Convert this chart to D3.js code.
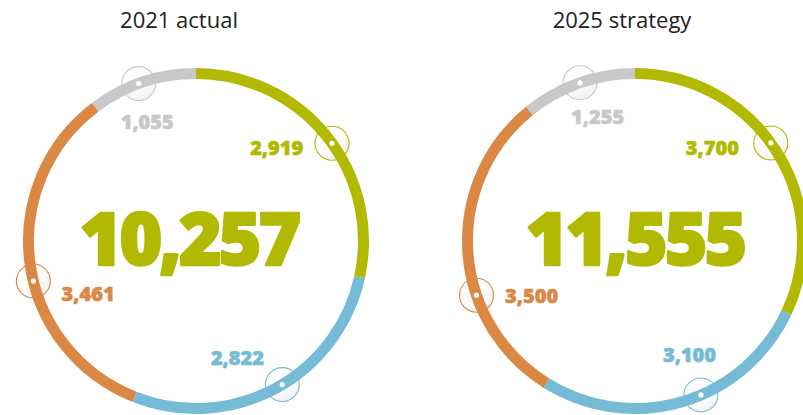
<!DOCTYPE html>
<html>
<head>
<meta charset="utf-8">
<script src="https://cdn.jsdelivr.net/npm/d3@7"></script>
<style>
  html, body { margin: 0; padding: 0; background: #fff; }
  svg { display: block; }
</style>
</head>
<body>
<svg id="chart" width="803" height="415"></svg>
<script>
// ---- data ----
const categories = ["Segment A", "Segment B", "Segment C", "Segment D"];
const chartTitles = ["2021 actual", "2025 strategy"];
const values2021 = [2919, 2822, 3461, 1055];
const values2025 = [3700, 3100, 3500, 1255];
const seriesValues = [values2021, values2025];

// ---- styles / layout ----
const colors = ["#b1b900", "#76bbd6", "#db8845", "#c8c8c8"];
const centers = [[196, 241], [635, 241]];
const ringR = 167.5, ringW = 11;
const titleDx = [-17, -13];
const totalDx = [-7, 0];
const markerFrac = [[0.53, 0.47, 0.45, 0.46], [0.47, 0.43, 0.36, 0.51]];
const labelFrac = [[0.40, 0.586, 0.35, 0.40], [0.345, 0.405, 0.277, 0.573]];
const labelR = [[123, 124, 120, 129], [121, 126, 117, 130]];

const svg = d3.select("#chart");
const fmt = d3.format(",");

const defs = svg.append("defs");
const grad = defs.append("radialGradient").attr("id", "mk")
  .attr("cx", "35%").attr("cy", "30%").attr("r", "75%");
grad.append("stop").attr("offset", "0%").attr("stop-color", "#ffffff").attr("stop-opacity", 1);
grad.append("stop").attr("offset", "60%").attr("stop-color", "#fbfbfb").attr("stop-opacity", 1);
grad.append("stop").attr("offset", "100%").attr("stop-color", "#f1f1f1").attr("stop-opacity", 1);

const pie = d3.pie().sort(null).value(d => d).startAngle(0).endAngle(2 * Math.PI);
const arcLine = d3.arc().innerRadius(ringR).outerRadius(ringR);
const color = d3.scaleOrdinal().domain(categories).range(colors);

function polar(a, r) { return [r * Math.sin(a), -r * Math.cos(a)]; }

seriesValues.forEach((vals, ci) => {
  const [cx, cy] = centers[ci];
  const g = svg.append("g").attr("transform", `translate(${cx},${cy})`);
  const arcs = pie(vals).map((d, i) => ({ ...d, cat: categories[i], idx: i }));
  const markerPos = d => {
    const a = d.startAngle + (d.endAngle - d.startAngle) * markerFrac[ci][d.idx];
    const [x, y] = polar(a, ringR);
    return `translate(${x},${y})`;
  };

  // title
  svg.append("text")
    .attr("x", cx + titleDx[ci]).attr("y", 28)
    .attr("text-anchor", "middle")
    .attr("font-family", "'Open Sans', sans-serif")
    .attr("font-weight", 400)
    .attr("font-size", 22)
    .attr("fill", "#222")
    .text(chartTitles[ci]);

  // marker discs (under the ring)
  g.selectAll("circle.mk")
    .data(arcs)
    .join("circle")
    .attr("class", "mk")
    .attr("transform", markerPos)
    .attr("r", 17)
    .attr("fill", "url(#mk)")
    .attr("stroke", d => color(d.cat))
    .attr("stroke-width", 1.1);

  // ring segments, drawn in reverse so earlier segments overlap later ones
  g.selectAll("path.seg")
    .data(arcs.slice().reverse())
    .join("path")
    .attr("class", "seg")
    .attr("d", d => arcLine({ startAngle: d.startAngle, endAngle: d.endAngle }))
    .attr("fill", "none")
    .attr("stroke", d => color(d.cat))
    .attr("stroke-width", ringW)
    .attr("stroke-linecap", "round");

  // marker dots (on the ring)
  g.selectAll("circle.dot")
    .data(arcs)
    .join("circle")
    .attr("class", "dot")
    .attr("transform", markerPos)
    .attr("r", 2.6)
    .attr("fill", "#fff");

  // total
  g.append("text")
    .attr("x", totalDx[ci]).attr("y", 24)
    .attr("text-anchor", "middle")
    .attr("font-family", "'Open Sans', sans-serif")
    .attr("font-weight", 800)
    .attr("font-size", 73)
    .attr("letter-spacing", -3)
    .attr("fill", colors[0])
    .attr("stroke", colors[0])
    .attr("stroke-width", 2.4)
    .attr("stroke-linejoin", "round")
    .text(fmt(d3.sum(vals)));

  // labels
  g.selectAll("text.lbl")
    .data(arcs)
    .join("text")
    .attr("class", "lbl")
    .attr("transform", d => {
      const a = d.startAngle + (d.endAngle - d.startAngle) * labelFrac[ci][d.idx];
      const [x, y] = polar(a, labelR[ci][d.idx]);
      return `translate(${x},${y})`;
    })
    .attr("dy", "0.36em")
    .attr("text-anchor", "middle")
    .attr("font-family", "'Open Sans', sans-serif")
    .attr("font-weight", 800)
    .attr("font-size", 20)
    .attr("fill", d => color(d.cat))
    .attr("stroke", d => color(d.cat))
    .attr("stroke-width", 0.6)
    .attr("stroke-linejoin", "round")
    .text(d => fmt(d.value));
});
</script>
</body>
</html>
